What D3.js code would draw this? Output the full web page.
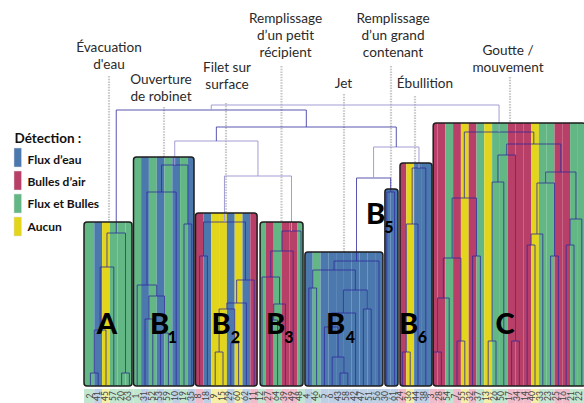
<!DOCTYPE html>
<html>
<head>
<meta charset="utf-8">
<script src="https://cdn.jsdelivr.net/npm/d3@7"></script>
<style>
html, body { margin: 0; padding: 0; background: #fff; }
svg { display: block; font-family: Lato, "Open Sans", sans-serif; }
</style>
</head>
<body>
<div id="chart"></div>
<script>
// data
const leafLabels = [2,41,45,57,20,63, 1,31,52,53,59,10,19,35, 8,18,9,15,29,60,62,11, 12,27,64,39,49,48,
    4,46,5,6,43,58,42,47,51,56, 30,61, 24,36,44,38,
    3,28,54,7,55,32,37,13,26,50,17,34,14,40,33,23,25,16,21,22];

// E = flux d'eau, B = bulles d'air, F = flux et bulles, N = aucun
const leafClasses = ['F','E','N','F','F','F', 'F','E','F','E','F','E','F','E', 'B','E','N','N','E','N','E','B',
    'F','B','F','B','B','F', 'E','F','E','E','E','E','E','E','E','E', 'E','E', 'B','N','E','E',
    'B','B','F','B','N','B','F','N','F','F','B','B','B','N','F','F','B','B','F','F'];

// [a, b, height]: a number >= 0 is a leaf index, -k is the merge number k (first row = 1)
const merges = [
    [0,1,12],[-1,2,55],[-2,3,118],[4,5,12],[-3,-4,152],
    [7,8,66],[9,10,52],[-6,-7,89],[6,-8,100],[-9,11,193],[12,13,161],[-10,-11,220],
    [14,15,129],[16,17,33],[18,19,42],[-14,-15,76],[-16,20,82],[-17,21,105],[-13,-18,163],
    [23,24,65],[-20,25,81],[22,-21,108],[-22,26,134],[-23,27,154],
    [28,29,97],[32,33,12],[31,-26,28],[30,-27,58],[-28,34,72],[35,36,76],[-29,-30,95],[-25,-31,115],[-32,37,124],
    [38,39,193],[-33,-34,207],
    [40,41,33],[-36,42,161],[-37,43,217],[-35,-38,238],
    [-19,-24,209],[-12,-40,244],[-41,-39,258],[-5,-42,275],
    [44,45,33],[-44,46,87],[47,48,44],[-45,-46,127],[49,50,129],[-47,-48,187],
    [51,52,44],[-50,53,203],[54,55,44],[-51,-52,230],
    [56,57,140],[-54,58,151],[59,60,129],[-55,-56,202],[61,62,140],[-58,63,166],[-57,-59,213],[-53,-60,241],
    [-49,-61,253],[-43,-62,280]
];

const clusterNames = ['A','B','B','B','B','B','B','C'];
const clusterSubs = ['','1','2','3','4','5','6',''];
const clusterFirst = [0,6,14,22,28,38,40,44];
const clusterLast = [5,13,21,27,37,39,43,63];
const clusterTop = [163,228,172,163,133,196,222,262];

const legendKeys = ['E','B','F','N'];
const legendNames = ['Flux d’eau','Bulles d’air','Flux et Bulles','Aucun'];

const annotationLines = [
    ['Évacuation','d\'eau'],
    ['Ouverture','de robinet'],
    ['Filet sur','surface'],
    ['Remplissage','d’un petit','récipient'],
    ['Jet'],
    ['Remplissage','d’un grand','contenant'],
    ['Ébullition'],
    ['Goutte /','mouvement']
];

// layout
const width = 584;
const height = 403;
const colors = {E:'#4b79ae', B:'#b83f68', F:'#63b784', N:'#e3d51c'};
const paleColors = {E:'#bdd0e6', B:'#efbccb', F:'#c3e6d0', N:'#f6f0a6'};
const paleMerges = [63,41,40,39];

// drawn edge of each box, a little off the leaf edges
const boxLeftShift = [-2.5,0.2,-0.2,2,0,2,1.5,3.5];
const boxRightShift = [-1.3,-1.7,-1,-1.9,0,-0.5,2.3,0];

const annotationX = [109,161,227,285.5,343.5,393,425,508];
const annotationY = [52,84,72,23,88,23,88,55];
const guideX = [109,164,226,281.5,344,391,415,510];
const guideTop = [76,107,103,66,94,66,96,77];

const x = d3.scaleBand().domain(d3.range(leafLabels.length)).range([86.5, 585.7]);
const xLabel = d3.scalePoint().domain(d3.range(leafLabels.length)).range([90, 579.5]);
const y = d3.scaleLinear().domain([0, 280]).range([385, 105]);

const svg = d3.select('div#chart').append('svg').attr('width', width).attr('height', height);

// label strip under the tree
const strip = svg.append('g').attr('class', 'strip');
strip.selectAll('rect').data(leafLabels).enter().append('rect')
    .attr('x', (d, i) => i === 0 ? 84 : x(i))
    .attr('y', 389)
    .attr('width', (d, i) => i === 0 ? x(i) + x.bandwidth() - 84 : x.bandwidth())
    .attr('height', 14)
    .attr('fill', (d, i) => paleColors[leafClasses[i]]);
strip.selectAll('text').data(leafLabels).enter().append('text')
    .attr('transform', (d, i) => `translate(${xLabel(i) + 2.5},396) rotate(-90)`)
    .attr('text-anchor', 'middle')
    .attr('font-size', 8.5)
    .attr('fill', '#444')
    .text(d => d);

// dotted guides from the labels to the boxes
const clusterBox = clusterNames.map((d, i) => ({
    left: x(clusterFirst[i]) + boxLeftShift[i],
    right: x(clusterLast[i]) + x.bandwidth() + boxRightShift[i],
    top: y(clusterTop[i]),
    bottom: y(0) + 1
}));

svg.append('g').attr('class', 'guides').selectAll('line').data(guideX).enter().append('line')
    .attr('x1', d => d).attr('x2', d => d)
    .attr('y1', (d, i) => guideTop[i])
    .attr('y2', (d, i) => clusterBox[i].top)
    .attr('stroke', '#c8c8c8')
    .attr('stroke-width', 2.2)
    .attr('stroke-dasharray', '1.5,1.2');

// coloured leaves, clipped to the boxes
const bands = svg.append('g').attr('class', 'bands');
clusterBox.forEach((box, c) => {
    const group = bands.append('g');
    group.append('clipPath').attr('id', `clip${c}`).append('rect')
        .attr('x', box.left).attr('y', box.top)
        .attr('width', box.right - box.left).attr('height', box.bottom - box.top)
        .attr('rx', 3);
    const leaves = d3.range(clusterFirst[c], clusterLast[c] + 1);
    group.append('g').attr('clip-path', `url(#clip${c})`)
        .selectAll('rect').data(leaves).enter().append('rect')
        .attr('x', d => d === clusterFirst[c] ? Math.min(x(d), box.left) : x(d))
        .attr('y', box.top)
        .attr('width', d => (d === clusterLast[c] ? Math.max(x(d) + x.bandwidth(), box.right) : x(d) + x.bandwidth())
            - (d === clusterFirst[c] ? Math.min(x(d), box.left) : x(d)))
        .attr('height', box.bottom - box.top)
        .attr('fill', d => colors[leafClasses[d]]);
});

// dendrogram
const nodeX = [];
const nodeH = [];
const childPos = c => c >= 0
    ? {x: x(c) + x.bandwidth() / 2, h: 0}
    : {x: nodeX[-c - 1], h: nodeH[-c - 1]};

const links = merges.map((m, i) => {
    const a = childPos(m[0]);
    const b = childPos(m[1]);
    nodeX[i] = (a.x + b.x) / 2;
    nodeH[i] = m[2];
    return {a, b, h: m[2], id: i + 1};
});

svg.append('g').attr('class', 'dendrogram').selectAll('path').data(links).enter().append('path')
    .attr('d', d => `M${d.a.x},${y(d.a.h)}V${y(d.h)}H${d.b.x}V${y(d.b.h)}`)
    .attr('fill', 'none')
    .attr('stroke', d => paleMerges.includes(d.id) ? '#a39dd4' : '#2f2c9c')
    .attr('stroke-opacity', d => paleMerges.includes(d.id) ? 1 : 0.8)
    .attr('stroke-width', 1);

svg.append('g').attr('class', 'boxes').selectAll('rect').data(clusterBox).enter().append('rect')
    .attr('x', d => d.left).attr('y', d => d.top)
    .attr('width', d => d.right - d.left).attr('height', d => d.bottom - d.top)
    .attr('rx', 3)
    .attr('fill', 'none')
    .attr('stroke', '#1d1d1d')
    .attr('stroke-width', 1.5);

// cluster letters
const letterX = [107,159.5,221,275.5,335.5,375.5,408.5,505];
const letterY = [334,334,334,334,334,224,334,334];
const subX = [0,172.5,235.5,289,350.5,389,422.5,0];
const subY = [0,343,343,343,343,233,343,0];

const letters = svg.append('g').attr('class', 'letters');
letters.selectAll('text.name').data(clusterNames).enter().append('text')
    .attr('class', 'name')
    .attr('x', (d, i) => letterX[i]).attr('y', (d, i) => letterY[i])
    .attr('text-anchor', 'middle')
    .attr('font-size', 29).attr('font-weight', 900)
    .attr('fill', '#000')
    .text(d => d);
letters.selectAll('text.sub').data(clusterSubs).enter().append('text')
    .attr('class', 'sub')
    .attr('x', (d, i) => subX[i]).attr('y', (d, i) => subY[i])
    .attr('text-anchor', 'middle')
    .attr('font-size', 16).attr('font-weight', 900)
    .attr('fill', '#000')
    .text(d => d);

// annotations
const annotations = svg.append('g').attr('class', 'annotations');
annotationLines.forEach((lines, i) => {
    const t = annotations.append('text')
        .attr('text-anchor', 'middle')
        .attr('font-size', 13.6)
        .attr('fill', '#2a2a2a');
    lines.forEach((line, k) => {
        t.append('tspan').attr('x', annotationX[i]).attr('y', annotationY[i] + k * 17).text(line);
    });
});

// legend
const legend = svg.append('g').attr('class', 'legend');
legend.append('text').attr('x', 14.5).attr('y', 143)
    .attr('font-size', 13.5).attr('font-weight', 700).attr('fill', '#111')
    .text('Détection :');
legend.selectAll('rect').data(legendKeys).enter().append('rect')
    .attr('x', 14).attr('y', (d, i) => 148 + i * 23)
    .attr('width', 7.5).attr('height', 19)
    .attr('fill', d => colors[d])
    .attr('stroke', '#ddd').attr('stroke-width', 0.5);
legend.selectAll('text.item').data(legendNames).enter().append('text')
    .attr('class', 'item')
    .attr('x', 27.5).attr('y', (d, i) => 164 + i * 22.2)
    .attr('font-size', 12).attr('font-weight', 700).attr('fill', '#111')
    .text(d => d);
</script>
</body>
</html>
